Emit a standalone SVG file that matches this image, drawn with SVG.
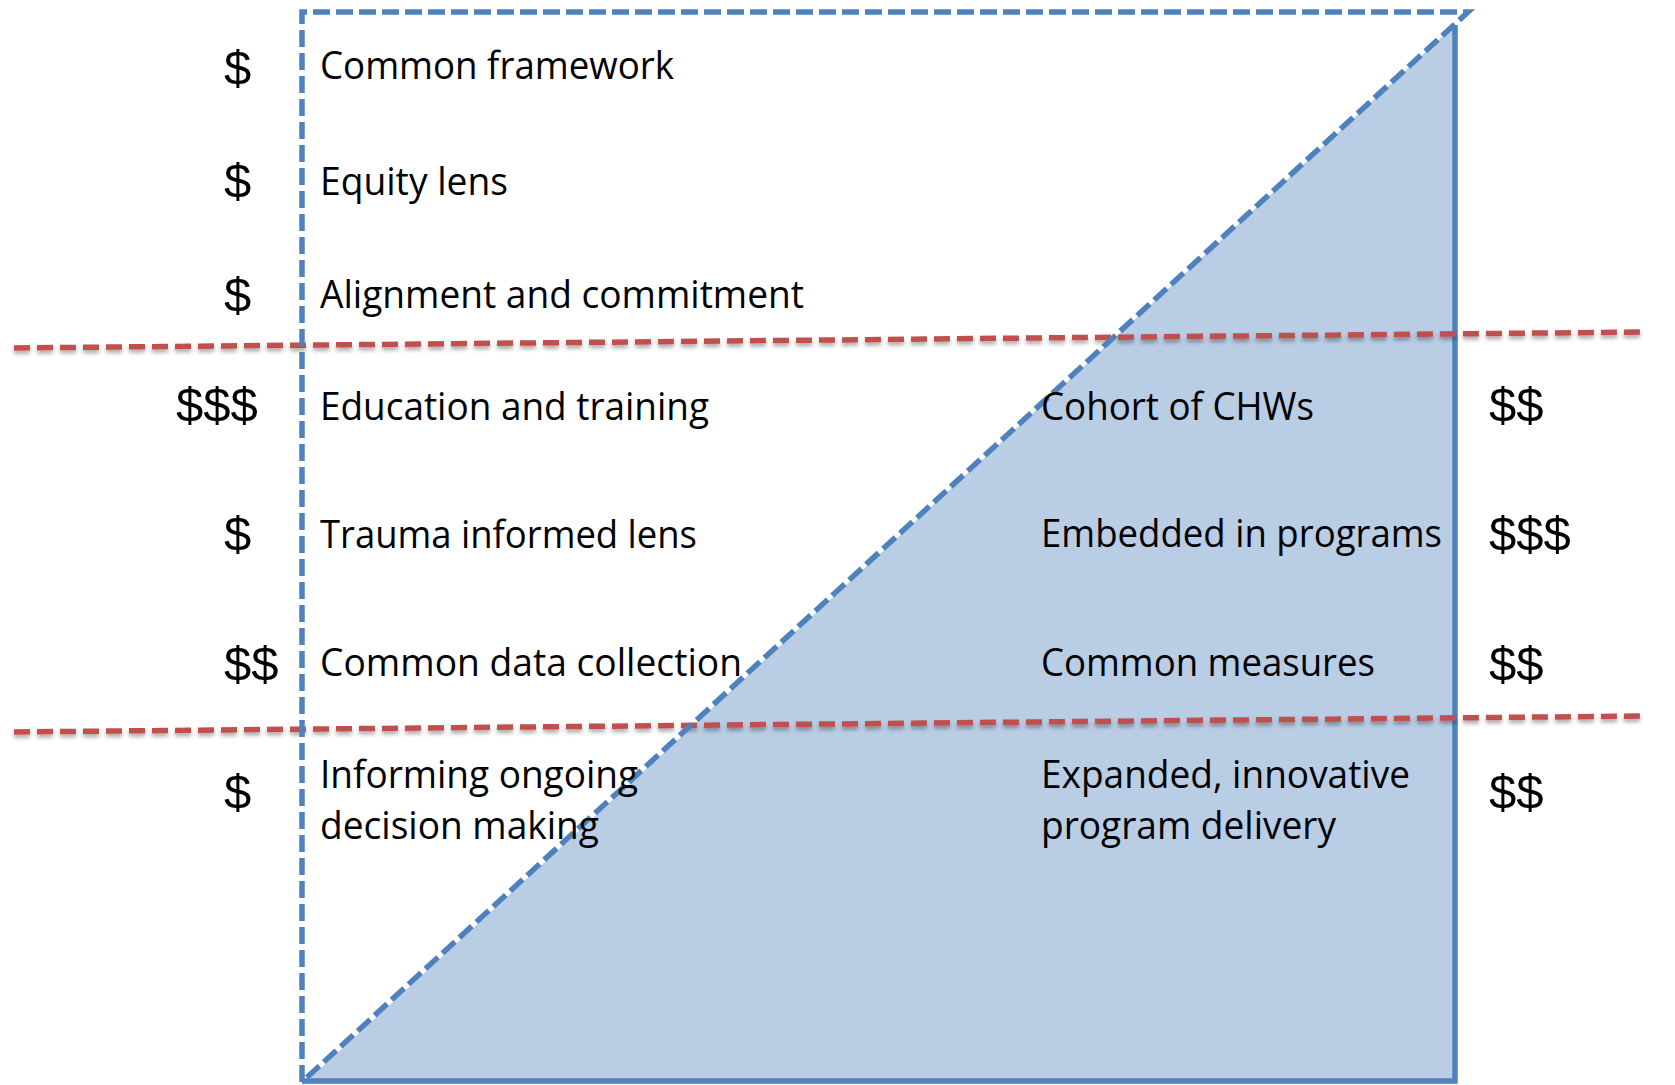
<svg xmlns="http://www.w3.org/2000/svg" width="1675" height="1085" viewBox="0 0 1675 1085">
<defs>
<style>
.t{font-family:"Open Sans","Noto Sans",sans-serif;font-size:39px;fill:#000}
.d{font-family:"Liberation Sans",Arial,sans-serif;font-size:49px;fill:#000}
.red{fill:none;stroke:#c0504d;stroke-width:5.5;stroke-dasharray:16 7}
.bd{fill:none;stroke:#4f81bd;stroke-width:5.5;stroke-dasharray:17 6}
</style>
<filter id="sh" x="-5%" y="-200%" width="110%" height="500%">
<feDropShadow dx="0" dy="3" stdDeviation="2" flood-color="#000" flood-opacity="0.35"/>
</filter>
</defs>
<rect width="1675" height="1085" fill="#fff"/>
<g id="triangle">
<path d="M307,1081 L1455,25 L1455,1081 Z" fill="#b9cde5"/>
<path d="M1455,25 L1455,1081 L302,1081" fill="none" stroke="#4f81bd" stroke-width="5.5"/>
</g>
<g id="connectors">
<path class="red" d="M14,348 L1645,332" filter="url(#sh)"/>
<path class="red" d="M14,732 L1645,716" filter="url(#sh)"/>
<path class="bd" d="M302,1082 L302,12 L1468,12 L302,1082"/>
</g>
<g id="n1"><text class="d" x="224" y="85">$</text><text class="t" x="320" y="79" textLength="354" lengthAdjust="spacingAndGlyphs">Common framework</text></g>
<g id="n2"><text class="d" x="224" y="198">$</text><text class="t" x="320" y="195" textLength="188" lengthAdjust="spacingAndGlyphs">Equity lens</text></g>
<g id="n3"><text class="d" x="224" y="312">$</text><text class="t" x="320" y="308" textLength="484" lengthAdjust="spacingAndGlyphs">Alignment and commitment</text></g>
<g id="n4"><text class="d" x="176" y="422">$$$</text><text class="t" x="320" y="420" textLength="389" lengthAdjust="spacingAndGlyphs">Education and training</text></g>
<g id="n5"><text class="d" x="224" y="551">$</text><text class="t" x="320" y="548" textLength="377" lengthAdjust="spacingAndGlyphs">Trauma informed lens</text></g>
<g id="n6"><text class="d" x="224" y="681">$$</text><text class="t" x="320" y="676" textLength="422" lengthAdjust="spacingAndGlyphs">Common data collection</text></g>
<g id="n7"><text class="d" x="224" y="809">$</text><text class="t" x="320" y="788" textLength="318" lengthAdjust="spacingAndGlyphs">Informing ongoing</text><text class="t" x="320" y="839" textLength="279" lengthAdjust="spacingAndGlyphs">decision making</text></g>
<g id="n8"><text class="t" x="1041" y="420" textLength="273" lengthAdjust="spacingAndGlyphs">Cohort of CHWs</text><text class="d" x="1489" y="422">$$</text></g>
<g id="n9"><text class="t" x="1041" y="547" textLength="401" lengthAdjust="spacingAndGlyphs">Embedded in programs</text><text class="d" x="1489" y="551">$$$</text></g>
<g id="n10"><text class="t" x="1041" y="676" textLength="334" lengthAdjust="spacingAndGlyphs">Common measures</text><text class="d" x="1489" y="681">$$</text></g>
<g id="n11"><text class="t" x="1041" y="788" textLength="369" lengthAdjust="spacingAndGlyphs">Expanded, innovative</text><text class="t" x="1041" y="839" textLength="295" lengthAdjust="spacingAndGlyphs">program delivery</text><text class="d" x="1489" y="809">$$</text></g>
</svg>
